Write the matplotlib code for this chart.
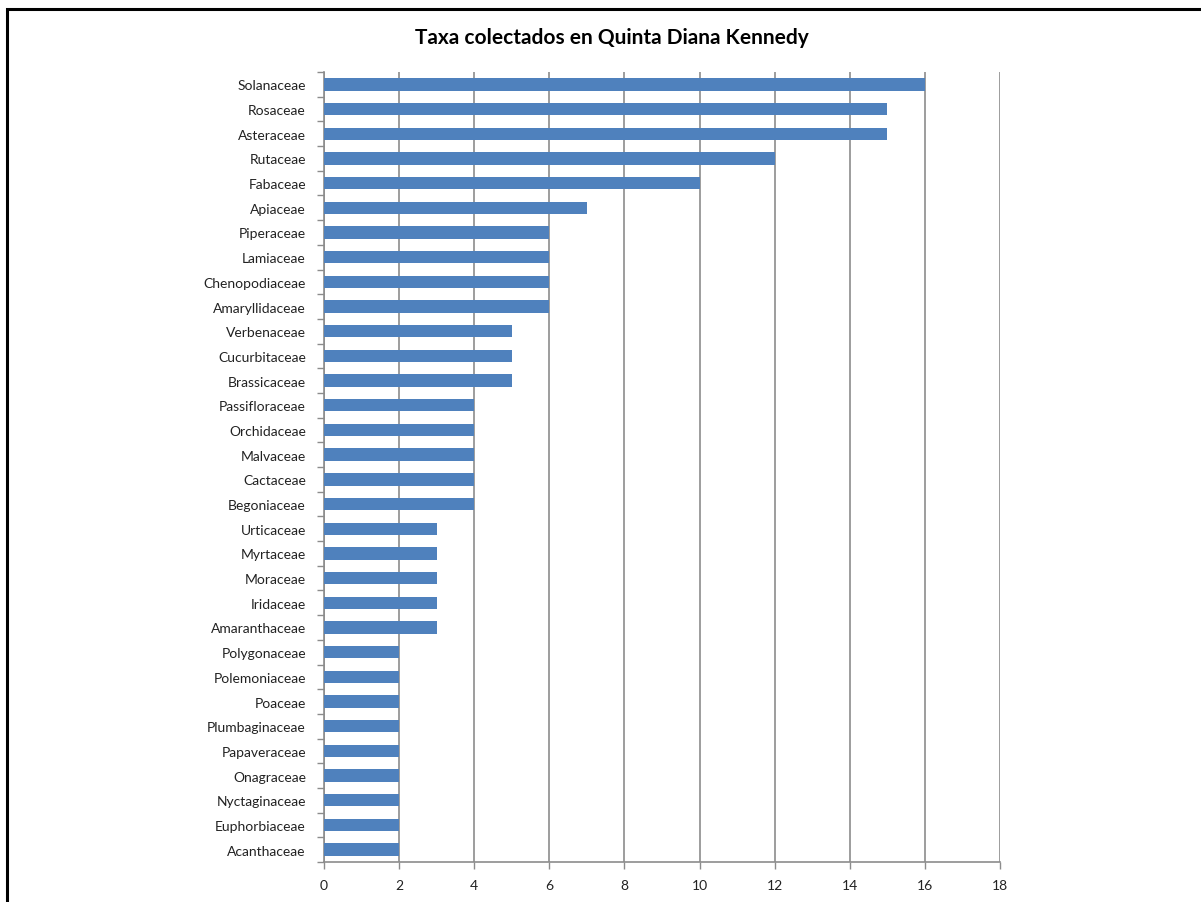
import matplotlib
matplotlib.use('Agg')
import matplotlib.pyplot as plt
import matplotlib.patches as mpatches
import numpy as np

# families, bottom to top as drawn
families = [
    'Acanthaceae', 'Euphorbiaceae', 'Nyctaginaceae', 'Onagraceae', 'Papaveraceae',
    'Plumbaginaceae', 'Poaceae', 'Polemoniaceae', 'Polygonaceae', 'Amaranthaceae',
    'Iridaceae', 'Moraceae', 'Myrtaceae', 'Urticaceae', 'Begoniaceae', 'Cactaceae',
    'Malvaceae', 'Orchidaceae', 'Passifloraceae', 'Brassicaceae', 'Cucurbitaceae',
    'Verbenaceae', 'Amaryllidaceae', 'Chenopodiaceae', 'Lamiaceae', 'Piperaceae',
    'Apiaceae', 'Fabaceae', 'Rutaceae', 'Asteraceae', 'Rosaceae', 'Solanaceae',
]
counts = [2, 2, 2, 2, 2, 2, 2, 2, 2, 3, 3, 3, 3, 3, 4, 4, 4, 4, 4, 5, 5, 5,
          6, 6, 6, 6, 7, 10, 12, 15, 15, 16]
x_ticks = [0, 2, 4, 6, 8, 10, 12, 14, 16, 18]

plt.rcParams['font.family'] = ['Lato', 'DejaVu Sans']

W, H = 1201, 903
fig = plt.figure(figsize=(W / 100, H / 100), dpi=100)
fig.patch.set_facecolor('white')

# outer chart frame (runs off the right and bottom edges)
fig.patches.append(mpatches.Rectangle((7 / W, -0.05), 1.2, 1 - 10 / H + 0.05,
                                      transform=fig.transFigure, fill=False,
                                      edgecolor='black', linewidth=2.2))

ax = fig.add_axes([324 / W, 40 / H, 676 / W, 790 / H])

y = np.arange(len(families))
ax.barh(y, counts, height=0.5, color='#4F81BD', zorder=3)

ax.set_xlim(0, 18)
ax.set_ylim(-0.5, len(families) - 0.5)
ax.set_xticks(x_ticks)
ax.set_xticklabels([str(t) for t in x_ticks])
ax.grid(True, axis='x', color='#8c8c8c', linewidth=1.2, zorder=1)

# category ticks between bars, labels centred on bars
ax.set_yticks(np.arange(-0.5, len(families), 1.0))
ax.set_yticklabels([])
ax.set_yticks(y, minor=True)
ax.set_yticklabels(families, minor=True)
ax.tick_params(axis='y', which='major', length=5, color='#8c8c8c', width=1)
ax.tick_params(axis='y', which='minor', length=0, pad=13, labelsize=10, labelcolor='#222222')
ax.tick_params(axis='x', length=5, color='#8c8c8c', width=1, labelsize=10,
               labelcolor='#222222', pad=7)

for s in ['top', 'right']:
    ax.spines[s].set_visible(False)
for s in ['left', 'bottom']:
    ax.spines[s].set_color('#8c8c8c')
    ax.spines[s].set_linewidth(1.2)

fig.text(612 / W, 1 - 38 / H, 'Taxa colectados en Quinta Diana Kennedy',
         ha='center', va='center', fontsize=15, fontweight='bold', color='black')

fig.savefig('out.png', dpi=100)
